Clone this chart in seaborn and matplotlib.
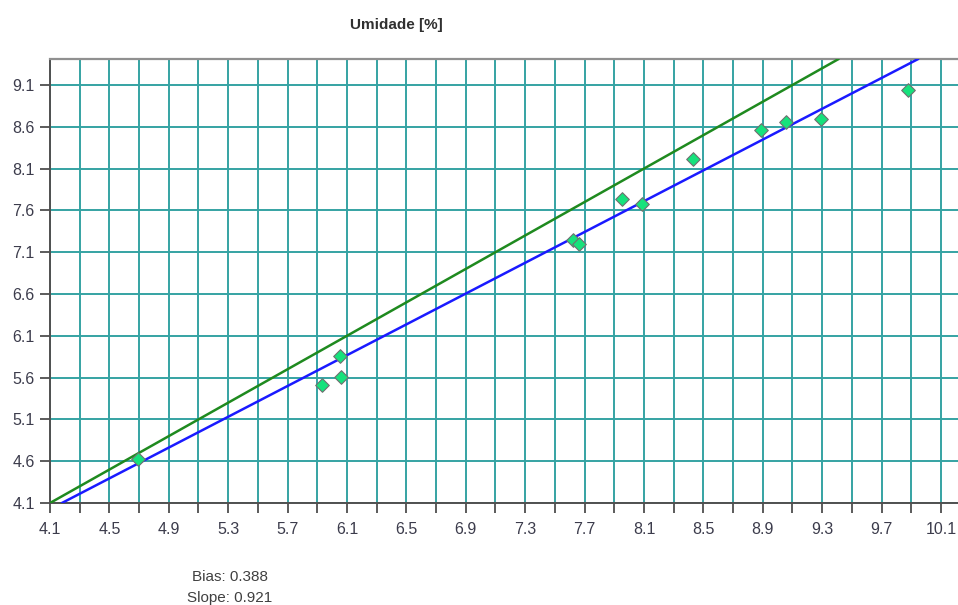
import numpy as np
import pandas as pd
import matplotlib
matplotlib.use("Agg")
import matplotlib.pyplot as plt
from matplotlib.ticker import MultipleLocator, FixedLocator
import seaborn as sns

# Reference vs. predicted moisture content (%)
reference = [4.69, 5.93, 6.05, 6.06, 7.62, 7.66, 7.95, 8.09, 8.43, 8.89, 9.06, 9.29, 9.88]
predicted = [4.63, 5.51, 5.86, 5.61, 7.25, 7.20, 7.74, 7.68, 8.21, 8.56, 8.66, 8.69, 9.04]

# Fitted calibration line and the 1:1 line
fit_slope = 0.921
fit_intercept = 0.25
bias = 0.388

x_ticks = [4.1, 4.5, 4.9, 5.3, 5.7, 6.1, 6.5, 6.9, 7.3, 7.7, 8.1, 8.5, 8.9, 9.3, 9.7, 10.1]
y_ticks = [4.1, 4.6, 5.1, 5.6, 6.1, 6.6, 7.1, 7.6, 8.1, 8.6, 9.1]

df = pd.DataFrame({"ref": reference, "pred": predicted})

sns.set_theme(style="white")
plt.rcParams["font.family"] = ["Liberation Sans", "DejaVu Sans"]

fig = plt.figure(figsize=(9.58, 6.05), dpi=100)
ax = fig.add_axes([50 / 958, 1 - 503 / 605, 1 - 50 / 958, (503 - 59) / 605])

grid_col = "#35a3a3"
ax.set_xlim(4.1, 10.215)
ax.set_ylim(4.1, 9.411)

ax.xaxis.set_major_locator(FixedLocator(x_ticks))
ax.xaxis.set_minor_locator(MultipleLocator(0.4, offset=0.3))
ax.yaxis.set_major_locator(FixedLocator(y_ticks))
ax.set_xticklabels([f"{v:.1f}" for v in x_ticks])
ax.set_yticklabels([f"{v:.1f}" for v in y_ticks])

ax.grid(True, which="both", axis="x", color=grid_col, linewidth=1.4)
ax.grid(True, which="major", axis="y", color=grid_col, linewidth=1.4)
ax.set_axisbelow(True)

ax.tick_params(axis="both", which="both", direction="out", length=7, width=1.2,
               color="#404040", labelsize=11.5, labelcolor="#3c3c4c", pad=4,
               bottom=True, left=True)
ax.tick_params(axis="x", which="minor", length=7)
ax.tick_params(axis="x", pad=7)

for side in ["left", "bottom"]:
    ax.spines[side].set_color("#505050")
    ax.spines[side].set_linewidth(1.4)
ax.spines["top"].set_color("#909090")
ax.spines["top"].set_linewidth(1.6)
ax.spines["right"].set_visible(False)

# 1:1 line and fitted line
ax.axline((0, 0), slope=1.0, color="#1f8a1f", linewidth=1.8, zorder=3)
ax.axline((0, fit_intercept), slope=fit_slope, color="#1a1aff", linewidth=1.8, zorder=3)

sns.scatterplot(data=df, x="ref", y="pred", ax=ax, marker="D", s=48,
                color="#16e27c", edgecolor="#707070", linewidth=0.8, zorder=4,
                legend=False)
ax.set_xlabel("")
ax.set_ylabel("")

fig.text(396 / 958, 1 - 25 / 605, "Umidade [%]", ha="center", va="center",
         fontsize=11, fontweight="bold", color="#303030")
fig.text(230 / 958, 1 - 577 / 605, f"Bias: {bias:.3f}", ha="center", va="center",
         fontsize=11, color="#404040")
fig.text(230 / 958, 1 - 598 / 605, f"Slope: {fit_slope:.3f}", ha="center", va="center",
         fontsize=11, color="#404040")

fig.savefig("out.png", dpi=100)
